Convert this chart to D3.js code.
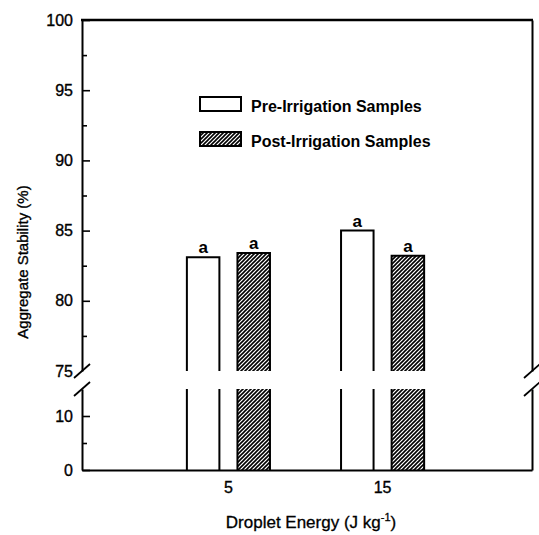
<!DOCTYPE html>
<html>
<head>
<meta charset="utf-8">
<script src="https://cdn.jsdelivr.net/npm/d3@7/dist/d3.min.js"></script>
<style>
  html, body { margin: 0; padding: 0; background: #fff; }
  svg { display: block; font-family: "Liberation Sans", Arial, Helvetica, sans-serif; }
</style>
</head>
<body>
<svg id="chart" width="539" height="535"></svg>
<script>
// ---- data ----
const energies = ["5", "15"];
const series = ["Pre-Irrigation Samples", "Post-Irrigation Samples"];
const preValues = [83.1, 85.0];
const postValues = [83.4, 83.2];
const sigLetters = [["a", "a"], ["a", "a"]]; // [energy][series]
const upperTicks = [75, 80, 85, 90, 95, 100];
const upperMinor = [77.5, 82.5, 87.5, 92.5, 97.5];
const lowerTicks = [0, 10];
const lowerMinor = [5];
const yTitle = "Aggregate Stability (%)";

// ---- layout ----
const svg = d3.select("#chart");
const L = 82, R = 532, T = 20, B = 470;
const breakTop = 371, breakBot = 389;

const yUp = d3.scaleLinear().domain([75, 100]).range([breakTop, T]);
const yLo = d3.scaleLinear().domain([0, 15]).range([B, breakBot]);

const x = d3.scaleBand().domain(energies).range([L, R])
  .paddingInner(0.461).paddingOuter(0.69).align(0.493);
const xs = d3.scaleBand().domain(series).range([0, x.bandwidth()]).paddingInner(0.357);

// hatch pattern
const defs = svg.append("defs");
const pat = defs.append("pattern").attr("id", "hatch")
  .attr("patternUnits", "userSpaceOnUse").attr("width", 4).attr("height", 4);
pat.append("rect").attr("width", 4).attr("height", 4).attr("fill", "#fff");
pat.append("path").attr("d", "M-1,1 l2,-2 M0,4 l4,-4 M3,5 l2,-2")
  .attr("stroke", "#000").attr("stroke-width", 1.6);

// ---- bars ----
const rows = [];
energies.forEach((e, i) => {
  rows.push({ e, s: series[0], v: preValues[i], letter: sigLetters[i][0] });
  rows.push({ e, s: series[1], v: postValues[i], letter: sigLetters[i][1] });
});

const barG = svg.append("g");
rows.forEach(d => {
  const x0 = x(d.e) + xs(d.s), w = xs.bandwidth();
  const fill = d.s === series[0] ? "#fff" : "url(#hatch)";
  // upper segment
  barG.append("rect").attr("x", x0).attr("y", yUp(d.v))
    .attr("width", w).attr("height", yUp(75) - yUp(d.v)).attr("fill", fill);
  barG.append("path")
    .attr("d", `M${x0},${yUp(75)} V${yUp(d.v)} H${x0 + w} V${yUp(75)}`)
    .attr("fill", "none").attr("stroke", "#000").attr("stroke-width", 2);
  // lower segment
  barG.append("rect").attr("x", x0).attr("y", yLo(15))
    .attr("width", w).attr("height", yLo(0) - yLo(15)).attr("fill", fill);
  barG.append("path")
    .attr("d", `M${x0},${yLo(15)} V${yLo(0)} M${x0 + w},${yLo(15)} V${yLo(0)}`)
    .attr("fill", "none").attr("stroke", "#000").attr("stroke-width", 2);
  // letter
  svg.append("text").attr("x", x0 + w / 2).attr("y", yUp(d.v) - 4)
    .attr("text-anchor", "middle").attr("font-size", 17).attr("font-weight", "bold")
    .text(d.letter);
});

// ---- axes ----
const axStyle = g => {
  g.selectAll(".domain").attr("stroke", "#000").attr("stroke-width", 2);
  g.selectAll(".tick line").attr("stroke", "#000").attr("stroke-width", 1.6);
  g.selectAll("text").attr("font-size", 16).attr("fill", "#000")
    .attr("stroke", "#000").attr("stroke-width", 0.35)
    .attr("font-family", "Liberation Sans, Arial, sans-serif");
};

const gUp = svg.append("g").attr("transform", `translate(${L},0)`)
  .call(d3.axisLeft(yUp).tickValues(upperTicks).tickSizeInner(-8).tickSizeOuter(0).tickPadding(9))
  .call(axStyle);
gUp.selectAll(".tick").filter(d => d === 75).select("line").remove();
svg.append("g").attr("transform", `translate(${L},0)`)
  .call(d3.axisLeft(yUp).tickValues(upperMinor).tickSizeInner(-5).tickSizeOuter(0).tickFormat(""))
  .call(axStyle).select(".domain").remove();

svg.append("g").attr("transform", `translate(${L},0)`)
  .call(d3.axisLeft(yLo).tickValues(lowerTicks).tickSizeInner(-8).tickSizeOuter(0).tickPadding(9))
  .call(axStyle);
svg.append("g").attr("transform", `translate(${L},0)`)
  .call(d3.axisLeft(yLo).tickValues(lowerMinor).tickSizeInner(-5).tickSizeOuter(0).tickFormat(""))
  .call(axStyle).select(".domain").remove();

// right axis (no ticks)
svg.append("g").attr("transform", `translate(${R},0)`)
  .call(d3.axisRight(yUp).tickValues([]).tickSizeOuter(0)).call(axStyle);
svg.append("g").attr("transform", `translate(${R},0)`)
  .call(d3.axisRight(yLo).tickValues([]).tickSizeOuter(0)).call(axStyle);

// top line
svg.append("line").attr("x1", L - 1).attr("x2", R + 1).attr("y1", T).attr("y2", T)
  .attr("stroke", "#000").attr("stroke-width", 2.4);

// bottom axis
const gX = svg.append("g").attr("transform", `translate(0,${B})`)
  .call(d3.axisBottom(x).tickSize(0).tickPadding(12))
  .call(axStyle);

// break marks
const brk = svg.append("g").attr("stroke", "#000").attr("stroke-width", 1.8);
[L, R].forEach(xx => {
  [breakTop, breakBot].forEach(yy => {
    brk.append("line").attr("x1", xx - 8).attr("y1", yy + 7)
      .attr("x2", xx + 8).attr("y2", yy - 7);
  });
});

// ---- titles ----
svg.append("text")
  .attr("transform", `translate(28,262) rotate(-90)`)
  .attr("text-anchor", "middle").attr("font-size", 15)
  .attr("stroke", "#000").attr("stroke-width", 0.35)
  .text(yTitle);

const xt = svg.append("text").attr("x", 311).attr("y", 528)
  .attr("text-anchor", "middle").attr("font-size", 17)
  .attr("stroke", "#000").attr("stroke-width", 0.3);
xt.append("tspan").text("Droplet Energy (J kg");
xt.append("tspan").attr("font-size", 11).attr("dy", -7).text("-1");
xt.append("tspan").attr("dy", 7).text(")");

// ---- legend ----
const legY = [97, 132];
const lg = svg.append("g");
series.forEach((s, i) => {
  lg.append("rect").attr("x", 200).attr("y", legY[i]).attr("width", 41).attr("height", 14)
    .attr("fill", i === 0 ? "#fff" : "url(#hatch)")
    .attr("stroke", "#000").attr("stroke-width", 2);
  lg.append("text").attr("x", 251).attr("y", legY[i] + 15)
    .attr("font-size", 16).attr("font-weight", "bold").text(s);
});
</script>
</body>
</html>
